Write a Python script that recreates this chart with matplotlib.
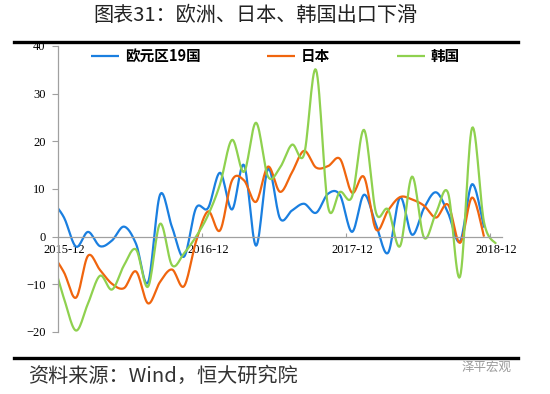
import numpy as np
import pandas as pd
import matplotlib
matplotlib.use("Agg")
import matplotlib.pyplot as plt
from matplotlib.lines import Line2D

plt.rcParams['font.family'] = ['Noto Sans CJK SC', 'DejaVu Sans']

# monthly export growth (%), 2015-11 .. 2018-11 / 2018-12
months = pd.period_range('2015-11', '2018-12', freq='M')
euro = [7.5, 4.0, -2.1, 1.0, -2.0, -0.8, 2.1, -1.5, -9.6, 8.8, 2.0, -4.2,
        6.0, 6.0, 13.4, 5.7, 15.0, -1.9, 14.2, 3.8, 5.5, 6.9, 5.0, 9.0,
        8.7, 1.0, 8.8, 2.5, -3.4, 8.2, 0.4, 6.0, 9.3, 5.0, -1.0, 11.0, 1.9]
japan = [-3.5, -7.5, -12.8, -4.0, -7.0, -9.9, -10.8, -7.3, -14.0, -9.5, -6.9, -10.4,
         -1.0, 5.3, 1.3, 11.8, 11.8, 7.3, 14.7, 9.4, 13.5, 18.0, 14.5, 14.8,
         16.3, 9.2, 12.5, 1.5, 5.5, 8.3, 7.8, 6.5, 4.0, 6.7, -1.3, 8.2, 0.0]
korea = [-4.5, -13.0, -19.7, -14.0, -8.2, -11.1, -6.0, -2.7, -10.5, 2.7, -6.0, -3.5,
         0.0, 4.5, 11.0, 20.3, 13.6, 23.9, 12.6, 14.5, 19.3, 17.2, 35.0, 6.3,
         9.4, 8.4, 22.4, 5.0, 5.7, -2.0, 12.6, -0.2, 5.0, 9.2, -8.4, 22.8, 3.0, -1.5]
names = ['欧元区19国', '日本', '韩国']
colors = ['#1a7fe0', '#f0650e', '#8fd14f']
label_months = ['2015-12', '2016-12', '2017-12', '2018-12']


def smooth(y, n=16):
    # Excel style smoothed line (cubic bezier through the points)
    y = np.asarray(y, float)
    x = np.arange(len(y), dtype=float)
    px = np.concatenate([[x[0]], x, [x[-1]]])
    py = np.concatenate([[y[0]], y, [y[-1]]])
    t = np.linspace(0, 1, n)[:, None]
    xs, ys = [], []
    for i in range(1, len(px) - 2):
        for p, out in ((px, xs), (py, ys)):
            p0, p1, p2, p3 = p[i - 1], p[i], p[i + 1], p[i + 2]
            c1 = p1 + (p2 - p0) / 6
            c2 = p2 - (p3 - p1) / 6
            b = (1 - t) ** 3 * p1 + 3 * (1 - t) ** 2 * t * c1 + 3 * (1 - t) * t ** 2 * c2 + t ** 3 * p2
            out.append(b.ravel())
    return np.concatenate(xs), np.concatenate(ys)


fig = plt.figure(figsize=(5.5, 3.94), dpi=100)
ax = fig.add_axes([0.1055, 0.1574, 0.8073, 0.7259])

# x position: 0 = 2015-12, so 2015-11 sits at -1 and is clipped at the axis
for vals, name, c in zip([euro, japan, korea], names, colors):
    xs, ys = smooth(vals)
    ax.plot(xs - 1, ys, color=c, lw=1.6, label=name, solid_capstyle='butt')

ax.set_xlim(-0.5, 36.5)
ax.set_ylim(-20, 40)
ax.set_yticks(range(-20, 41, 10))

ax.spines['top'].set_visible(False)
ax.spines['right'].set_visible(False)
ax.spines['bottom'].set_position(('data', 0))
for s in ('left', 'bottom'):
    ax.spines[s].set_color('#a0a0a0')
    ax.spines[s].set_linewidth(0.9)

pos = [list(months.strftime('%Y-%m')).index(m) - 1 for m in label_months]
ax.set_xticks([p - 0.5 for p in pos[1:]])
ax.set_xticklabels([])
ax.set_xticks(pos, minor=True)
ax.set_xticklabels(label_months, minor=True, family='Liberation Serif', fontsize=9)
ax.tick_params(axis='x', which='major', direction='in', length=3, color='#a0a0a0')
ax.tick_params(axis='x', which='minor', length=0, pad=5)
ax.tick_params(axis='y', direction='out', length=4, color='#a0a0a0', pad=5)
for t in ax.get_yticklabels():
    t.set_family('Liberation Serif')
    t.set_fontsize(9)

ax.legend(loc='upper center', bbox_to_anchor=(0.49, 1.04), ncol=3, frameon=False,
          handlelength=1.9, columnspacing=4.6, handletextpad=0.4,
          prop={'family': 'Noto Sans CJK SC', 'weight': 'bold', 'size': 10.5})

fig.text(0.465, 0.962, '图表31：欧洲、日本、韩国出口下滑', ha='center', va='center',
         fontsize=14.5, color='#222222')
fig.add_artist(Line2D([14 / 550, 518 / 550], [1 - 42 / 394] * 2, lw=2.4, color='black'))
fig.add_artist(Line2D([14 / 550, 518 / 550], [1 - 358 / 394] * 2, lw=2.4, color='black'))
fig.text(28 / 550, 1 - 376 / 394, '资料来源：Wind，恒大研究院', ha='left', va='center',
         fontsize=14.5, color='#333333', style='italic')
fig.text(462 / 550, 1 - 367 / 394, '泽平宏观', ha='left', va='center',
         fontsize=9, color='#9a9a9a')

fig.savefig('out.png', dpi=100)
